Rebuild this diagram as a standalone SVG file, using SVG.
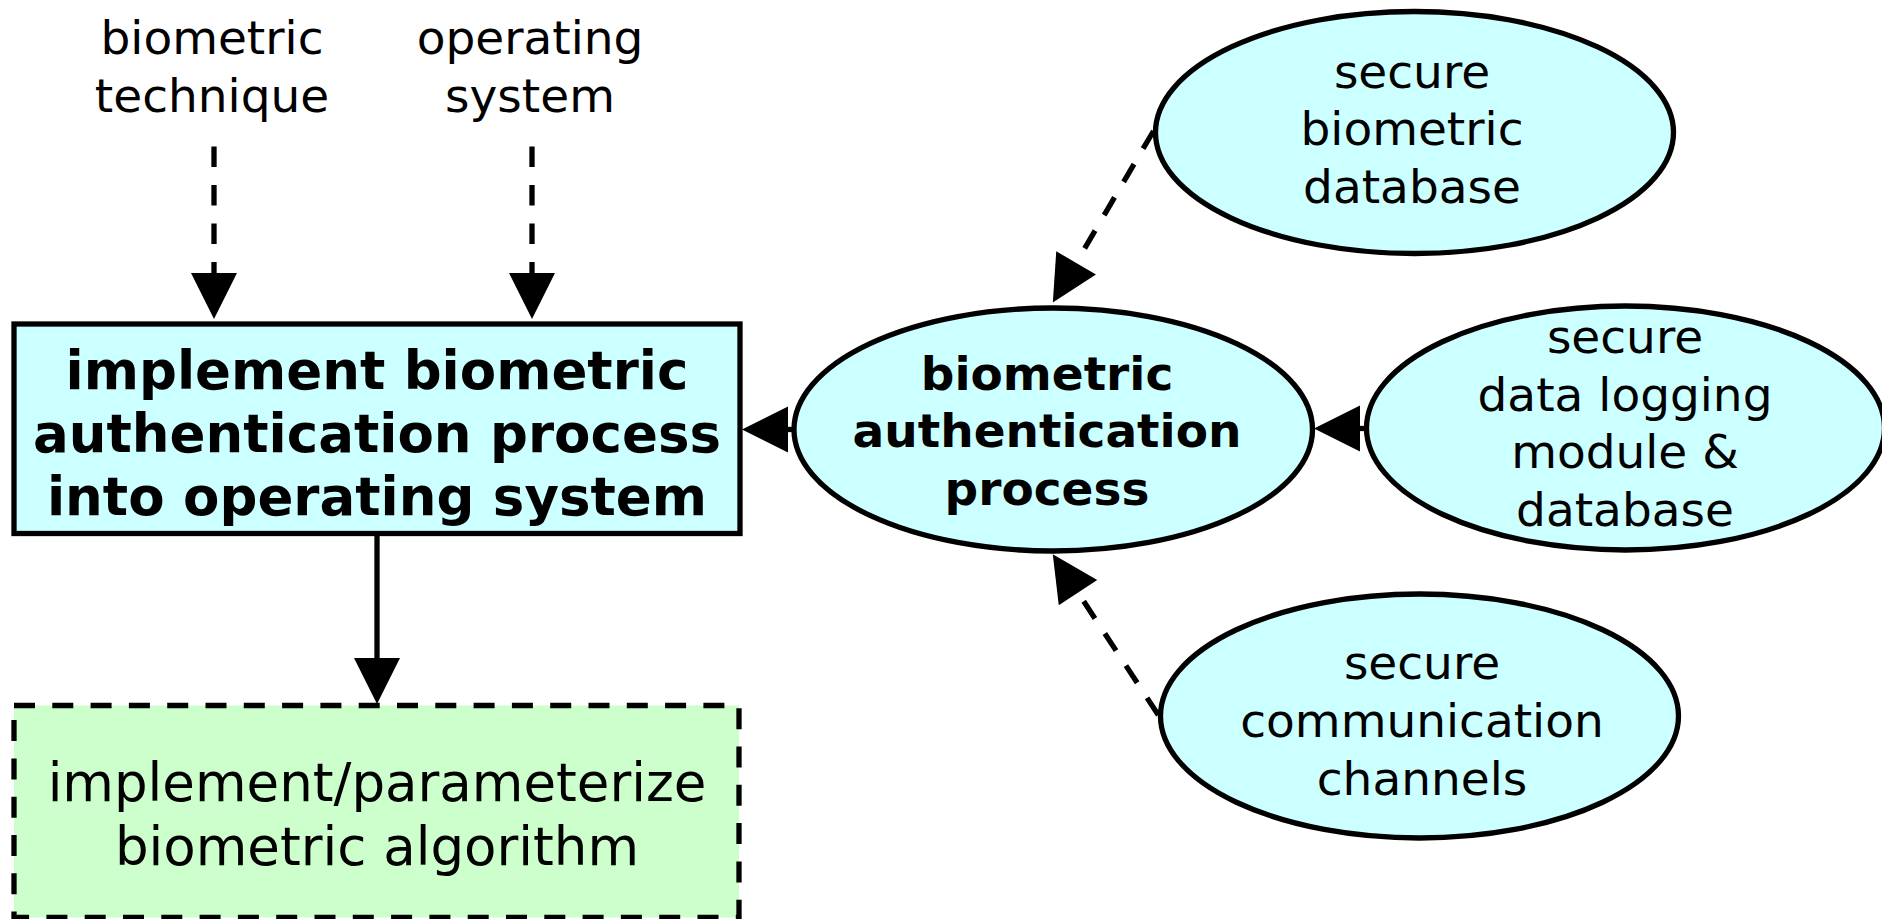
<svg xmlns="http://www.w3.org/2000/svg" width="1882" height="919" viewBox="0 0 1882 919">
<style>
  .t { font-family: "DejaVu Sans", Verdana, sans-serif; font-size: 47px; fill: #000; text-anchor: middle; }
  .tb { font-family: "DejaVu Sans", Verdana, sans-serif; font-size: 47px; font-weight: bold; fill: #000; text-anchor: middle; }
  .big { font-size: 53px; }
  .node { stroke: #000; stroke-width: 5.3; }
  .cyan { fill: #ccffff; }
  .green { fill: #ccffcc; stroke-dasharray: 21 17.3; }
  .edge { fill: none; stroke: #000; stroke-width: 5.3; }
  .dash { stroke-dasharray: 20.5 18; }
</style>
<defs>
  <marker id="arr" markerUnits="userSpaceOnUse" markerWidth="46" markerHeight="46" viewBox="0 0 45 45" refX="0" refY="22.5" orient="auto" overflow="visible">
    <path d="M0,0 L45,22.5 L0,45 Z" fill="#000"/>
  </marker>
</defs>
<rect width="1882" height="919" fill="#fff"/>

<g id="label-technique">
  <text class="t" x="212" y="54">biometric</text>
  <text class="t" x="212" y="111.5">technique</text>
</g>
<g id="label-os">
  <text class="t" x="530" y="54">operating</text>
  <text class="t" x="530" y="111.5">system</text>
</g>

<g id="node-implement">
  <rect class="node cyan" x="14" y="324" width="726" height="209.5"/>
  <text class="tb big" x="377" y="389">implement biometric</text>
  <text class="tb big" x="377" y="452">authentication process</text>
  <text class="tb big" x="377" y="515">into operating system</text>
</g>

<g id="node-algorithm">
  <rect class="node green" x="14" y="705.5" width="725" height="212"/>
  <text class="t big" x="377" y="801">implement/parameterize</text>
  <text class="t big" x="377" y="865">biometric algorithm</text>
</g>

<g id="node-process">
  <ellipse class="node cyan" cx="1053.25" cy="429.5" rx="259.25" ry="121.5"/>
  <text class="tb" x="1047" y="389.5">biometric</text>
  <text class="tb" x="1047" y="447">authentication</text>
  <text class="tb" x="1047" y="504.5">process</text>
</g>

<g id="node-biodb">
  <ellipse class="node cyan" cx="1414.5" cy="132.5" rx="259" ry="121"/>
  <text class="t" x="1412" y="87.5">secure</text>
  <text class="t" x="1412" y="145">biometric</text>
  <text class="t" x="1412" y="202.5">database</text>
</g>

<g id="node-logging">
  <ellipse class="node cyan" cx="1625.5" cy="428" rx="259" ry="122"/>
  <text class="t" x="1625" y="353">secure</text>
  <text class="t" x="1625" y="410.5">data logging</text>
  <text class="t" x="1625" y="468">module &amp;</text>
  <text class="t" x="1625" y="525.5">database</text>
</g>

<g id="node-comm">
  <ellipse class="node cyan" cx="1419.5" cy="716" rx="259" ry="122"/>
  <text class="t" x="1422" y="679">secure</text>
  <text class="t" x="1422" y="737">communication</text>
  <text class="t" x="1422" y="795">channels</text>
</g>

<g id="connectors">
  <path class="edge dash" d="M214,146.5 L214,273" marker-end="url(#arr)"/>
  <path class="edge dash" d="M532,146.5 L532,273" marker-end="url(#arr)"/>
  <path class="edge" d="M377,536 L377,658" marker-end="url(#arr)"/>
  <path class="edge" d="M794,429.5 L788,429.5" marker-end="url(#arr)"/>
  <path class="edge" d="M1366.5,428.5 L1360,428.5" marker-end="url(#arr)"/>
  <path class="edge dash" d="M1153.5,131 L1076.1,262.9" marker-end="url(#arr)"/>
  <path class="edge dash" d="M1158.3,715 L1078,592.6" marker-end="url(#arr)"/>
</g>
</svg>
